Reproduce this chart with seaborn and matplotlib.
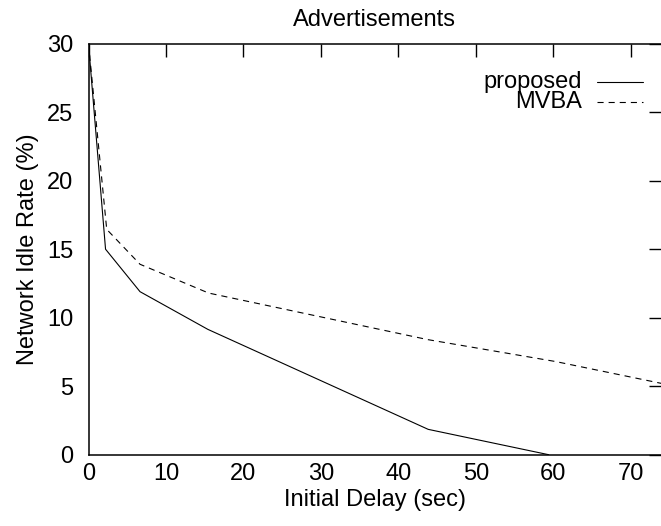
import matplotlib
matplotlib.use("Agg")
import matplotlib.pyplot as plt
from matplotlib.lines import Line2D
import seaborn as sns
import pandas as pd

# Network idle rate against initial delay for the two schemes
proposed_delay = [0.0, 2.2, 6.65, 15.4, 43.85, 59.4]
proposed_idle = [30.0, 15.0, 11.9, 9.15, 1.85, 0.0]
mvba_delay = [0.0, 2.35, 6.65, 15.5, 43.8, 60.3, 74.0]
mvba_idle = [30.0, 16.45, 13.9, 11.8, 8.4, 6.8, 5.2]

series_names = ["proposed", "MVBA"]
x_ticks = [0, 10, 20, 30, 40, 50, 60, 70]
y_ticks = [0, 5, 10, 15, 20, 25, 30]

df = pd.concat([
    pd.DataFrame({"delay": proposed_delay, "idle": proposed_idle, "scheme": series_names[0]}),
    pd.DataFrame({"delay": mvba_delay, "idle": mvba_idle, "scheme": series_names[1]}),
])

sns.set_theme(style="white")
plt.rcParams["font.family"] = ["Liberation Sans", "DejaVu Sans"]
FS = 17

fig = plt.figure(figsize=(6.61, 5.26), dpi=100)
W, H = 661, 526
ax = fig.add_axes([88.5 / W, (H - 454.7) / H, (661 - 88.5) / W, 411 / H])

sns.lineplot(data=df, x="delay", y="idle", hue="scheme", style="scheme",
             palette={"proposed": "black", "MVBA": "black"},
             dashes={"proposed": "", "MVBA": (5.5, 4.5)},
             sort=False, estimator=None, linewidth=0.8, legend=False, ax=ax)

ax.set_xlim(0, 73.9)
ax.set_ylim(0, 30)
ax.set_xticks(x_ticks)
ax.set_yticks(y_ticks)
ax.tick_params(axis="both", which="both", direction="in", length=9, width=1.0,
               colors="black", labelsize=FS, top=True, right=True)
ax.tick_params(axis="x", pad=6)
ax.tick_params(axis="y", pad=11)
for side in ["left", "bottom", "top"]:
    ax.spines[side].set_color("black")
    ax.spines[side].set_linewidth(1.1)
ax.spines["right"].set_visible(False)

ax.set_xlabel("Initial Delay (sec)", fontsize=FS, color="black", labelpad=3)
ax.set_ylabel("Network Idle Rate (%)", fontsize=FS, color="black", labelpad=6)
ax.set_title("Advertisements", fontsize=FS, color="black", pad=13)

# key in the upper right: label right-aligned, sample line after it
key = [(series_names[0], "-", 0.908), (series_names[1], (0, (5.5, 4.5)), 0.857)]
for name, ls, yk in key:
    ax.text(0.862, yk, name, transform=ax.transAxes, ha="right", va="center",
            fontsize=FS, color="black")
    ax.add_line(Line2D([0.888, 0.969], [yk, yk], transform=ax.transAxes,
                       color="black", linewidth=0.8, linestyle=ls))

fig.savefig("out.png", dpi=100)
